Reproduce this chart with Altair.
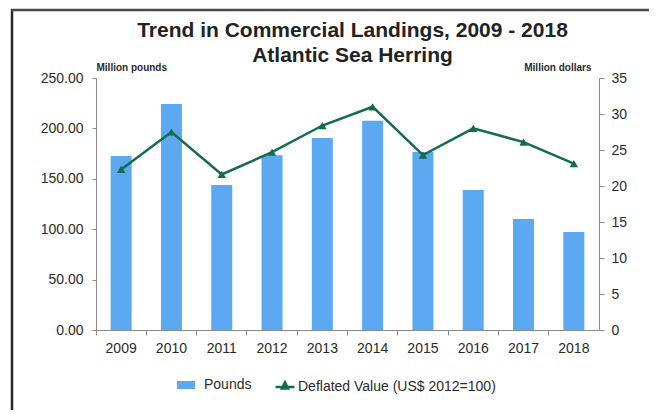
import altair as alt
import pandas as pd

years = ["2009", "2010", "2011", "2012", "2013", "2014", "2015", "2016", "2017", "2018"]
pounds = [172.6, 224.2, 143.8, 173.3, 190.5, 207.7, 176.6, 138.9, 110.1, 97.2]
deflated_value = [22.3, 27.5, 21.6, 24.7, 28.4, 31.0, 24.3, 28.0, 26.1, 23.1]
left_ticks = [0, 50, 100, 150, 200, 250]
right_ticks = [0, 5, 10, 15, 20, 25, 30, 35]
series_bar = "Pounds"
series_line = "Deflated Value (US$ 2012=100)"

FONT = "Liberation Sans"
BLUE = "#5CA9F1"
GREEN = "#136B50"
GREY = "#8A8A8A"
TXT = "#2B2B2B"

df = pd.DataFrame({"year": years, "pounds": pounds, "value": deflated_value})
df["s1"] = series_bar
df["s2"] = series_line

W, H = 503, 252

x_enc = alt.X(
    "year:N", title=None,
    scale=alt.Scale(paddingInner=0, paddingOuter=0),
    axis=alt.Axis(bandPosition=0, labelAngle=0,
                  tickSize=5, labelPadding=6, domainColor=GREY, tickColor=GREY,
                  labelFontSize=14, labelColor=TXT, labelFont=FONT, grid=False),
)

bars = alt.Chart(df).mark_bar(size=21).encode(
    x=x_enc,
    y=alt.Y("pounds:Q", scale=alt.Scale(domain=[0, 250], nice=False),
            axis=alt.Axis(values=left_ticks, format=".2f", title="Million pounds",
                          titleAngle=0, titleX=0, titleY=-6, titleAlign="left",
                          titleBaseline="bottom", titleFontSize=10, titleFontWeight="bold",
                          titleFont=FONT, titleColor=TXT, grid=False, tickSize=4,
                          labelPadding=9, domainColor=GREY, tickColor=GREY,
                          labelFontSize=14, labelColor=TXT, labelFont=FONT)),
    color=alt.Color("s1:N", scale=alt.Scale(domain=[series_bar], range=[BLUE]),
                    legend=alt.Legend(title=None, orient="none", legendX=81, legendY=298,
                                      symbolType="M-1,-0.45H1V0.45H-1Z", symbolSize=324,
                                      symbolStrokeWidth=0, padding=0,
                                      labelFontSize=14, labelFont=FONT, labelColor=TXT,
                                      labelOffset=9)),
)

y_right = alt.Y("value:Q", scale=alt.Scale(domain=[0, 35], nice=False),
                axis=alt.Axis(orient="right", values=right_ticks, title="Million dollars",
                              titleAngle=0, titleX=-8, titleY=-6, titleAlign="right",
                              titleBaseline="bottom", titleFontSize=10, titleFontWeight="bold",
                              titleFont=FONT, titleColor=TXT, grid=False, tickSize=5,
                              labelPadding=7, domainColor=GREY, tickColor=GREY,
                              labelFontSize=14, labelColor=TXT, labelFont=FONT))

line = alt.Chart(df).mark_line(strokeWidth=2.5).encode(
    x=alt.X("year:N"),
    y=y_right,
    stroke=alt.Stroke("s2:N", scale=alt.Scale(domain=[series_line], range=[GREEN]),
                      legend=alt.Legend(title=None, orient="none", legendX=178, legendY=298,
                                        symbolType="M-1,0H1M0,-0.5L0.32,0.15H-0.32Z",
                                        symbolSize=361, symbolFillColor=GREEN,
                                        symbolStrokeColor=GREEN, symbolStrokeWidth=2.5,
                                        padding=0, labelFontSize=14, labelFont=FONT,
                                        labelColor=TXT, labelOffset=2, labelLimit=400)),
)

pts = alt.Chart(df).mark_point(shape="triangle-up", filled=True, size=70, color=GREEN,
                               opacity=1).encode(
    x=alt.X("year:N"),
    y=y_right,
)

frame_data = alt.Data(values=[{"k": 0}])
frame_left = alt.Chart(frame_data).mark_rule(color="#2a2a2a", strokeWidth=2.5).encode(
    x=alt.value(-84), y=alt.value(-69), y2=alt.value(345))
frame_top = alt.Chart(frame_data).mark_rule(color="#4a4a4a", strokeWidth=2.5).encode(
    x=alt.value(-85), x2=alt.value(570), y=alt.value(-68))

chart = alt.layer(
    bars, alt.layer(line, pts), frame_left, frame_top
).resolve_scale(
    y="independent", color="independent", stroke="independent"
).properties(
    width=W, height=H,
    title=alt.Title(["Trend in Commercial Landings, 2009 - 2018", "Atlantic Sea Herring"],
                    fontSize=21, font=FONT, fontWeight="bold", color="#222222",
                    anchor="middle", frame="group", offset=-58, dx=5, lineHeight=24.5),
    autosize=alt.AutoSizeParams(type="none"),
    padding={"left": 88, "top": 70, "right": 50, "bottom": 80},
).configure(background="white", view=alt.ViewConfig(stroke=None))

chart.save("out.html", embed_options={"renderer": "svg", "actions": False})
